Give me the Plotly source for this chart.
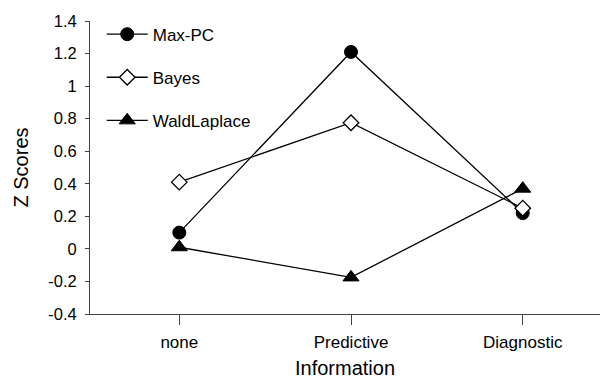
import plotly.graph_objects as go

categories = ["none", "Predictive", "Diagnostic"]
max_pc = [0.10, 1.21, 0.22]
bayes = [0.41, 0.775, 0.25]
wald_laplace = [0.01, -0.175, 0.37]
y_ticks = [-0.4, -0.2, 0, 0.2, 0.4, 0.6, 0.8, 1, 1.2, 1.4]
y_tick_text = ["-0.4", "-0.2", "0", "0.2", "0.4", "0.6", "0.8", "1", "1.2", "1.4"]

xs = list(range(len(categories)))
font = "Liberation Sans, Arial, sans-serif"

fig = go.Figure()
series = [
    ("Max-PC", max_pc, dict(symbol="circle", size=13, color="black", line=dict(color="black", width=1))),
    ("Bayes", bayes, dict(symbol="diamond", size=12, color="white", line=dict(color="black", width=1.3))),
    ("WaldLaplace", wald_laplace, dict(symbol="triangle-up", size=14, color="black", line=dict(color="black", width=1))),
]
for name, vals, mk in series:
    fig.add_trace(go.Scatter(
        x=xs, y=vals, name=name, mode="lines+markers",
        line=dict(color="black", width=1.3), marker=mk,
        legendgroup=name,
    ))

fig.update_layout(
    width=605, height=379,
    margin=dict(l=90, r=5, t=21, b=65),
    paper_bgcolor="white", plot_bgcolor="white",
    font=dict(family=font, color="black", size=16),
    showlegend=True,
    legend=dict(
        x=0.023, y=1.015, xanchor="left", yanchor="top",
        bgcolor="rgba(0,0,0,0)", font=dict(size=17, family=font),
        tracegroupgap=18, itemwidth=41,
    ),
    xaxis=dict(
        range=[-0.52, 2.45], tickmode="array", tickvals=xs, ticktext=categories,
        showline=True, linecolor="#444", linewidth=1, mirror=False,
        ticks="outside", ticklen=10, tickcolor="#444",
        showgrid=False, zeroline=False, automargin=False,
        tickfont=dict(size=17, family=font), ticklabelstandoff=3,
        title=dict(text="Information", font=dict(size=20, family=font), standoff=10),
    ),
    yaxis=dict(
        range=[-0.4, 1.4], tickmode="array", tickvals=y_ticks, ticktext=y_tick_text,
        showline=True, linecolor="#444", linewidth=1,
        ticks="outside", ticklen=4, tickcolor="#444",
        showgrid=False, zeroline=False, automargin=False,
        tickfont=dict(size=16.5, family=font), ticklabelstandoff=5,
        title=dict(text="Z Scores", font=dict(size=20, family=font), standoff=14),
    ),
)

fig.write_html("out.html")
